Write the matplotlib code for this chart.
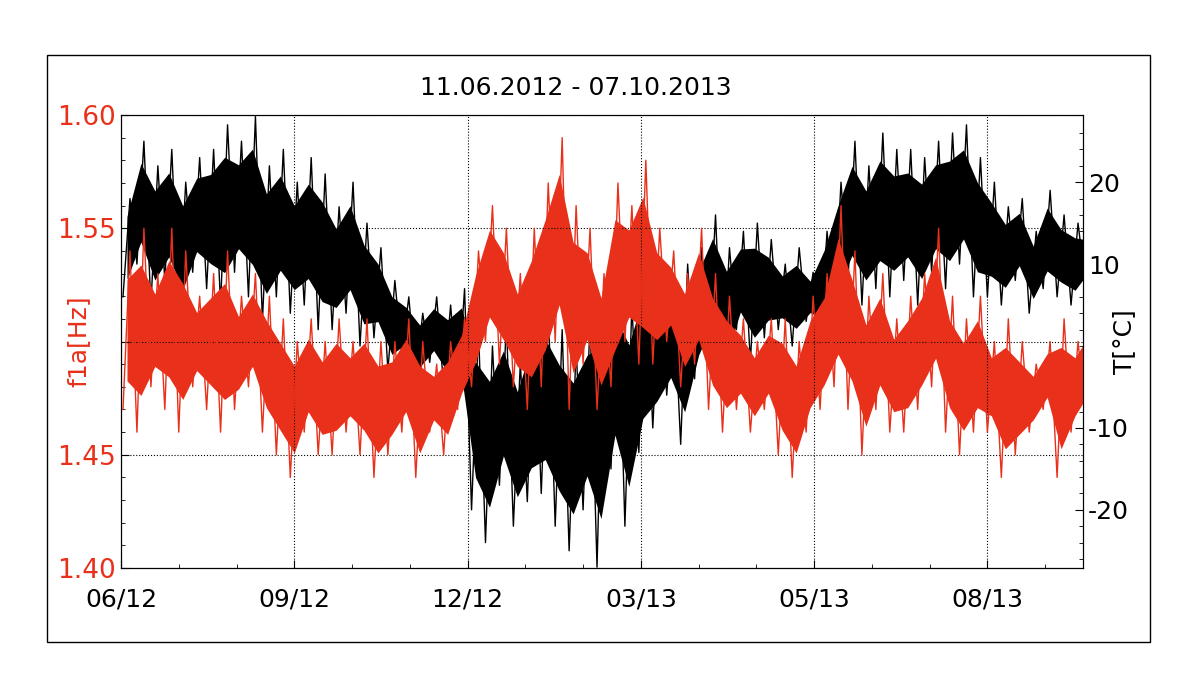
import matplotlib
matplotlib.use('Agg')
import matplotlib.pyplot as plt
import numpy as np
from matplotlib.patches import Rectangle

plt.rcParams['axes.unicode_minus'] = False

# weekly high/low estimates, week 0 = 11.06.2012
temp_high = [18, 25, 22, 24, 20, 23, 24, 27, 25, 28, 22, 24, 20, 23, 21,
             17, 20, 15, 12, 8, 6, 4, 6, 5, 7, 2, 0, 3, -2, 4,
             5, 2, 0, 3, 6, 8, 5, 10, 8, 6, 10, 12, 16, 12, 14, 15, 13,
             10, 12, 9, 14, 20, 25, 22, 26, 24, 24, 23, 25, 26, 27, 23,
             20, 17, 18, 14, 19, 16, 15, 14]
temp_low = [6, 10, 5, 8, 4, 9, 7, 5, 9, 6, 3, 6, 4, 5, 2,
            2, 4, 0, 1, -3, -1, -4, -2, -5, -6, -20, -24, -17, -22, -19,
            -18, -22, -25, -20, -27, -15, -22, -13, -10, -6, -12, -4, 0, -4, 2, -2, 1,
            2, 0, 3, 1, 4, 8, 5, 7, 6, 8, 5, 9, 7, 10, 6,
            6, 5, 8, 4, 7, 6, 5, 8]
f_high = [1.54, 1.55, 1.53, 1.55, 1.54, 1.52, 1.53, 1.54, 1.52, 1.53,
          1.52, 1.51, 1.50, 1.51, 1.50, 1.51, 1.50, 1.51, 1.50,
          1.50, 1.51, 1.50, 1.49, 1.50, 1.51, 1.54, 1.56, 1.55, 1.53, 1.55,
          1.57, 1.59, 1.56, 1.55, 1.53, 1.57, 1.56, 1.58, 1.55, 1.54, 1.53, 1.55,
          1.53, 1.52, 1.51, 1.50, 1.51, 1.51, 1.50, 1.52, 1.53,
          1.56, 1.54, 1.52, 1.53, 1.51, 1.52, 1.53, 1.55, 1.52, 1.51, 1.52,
          1.50, 1.51, 1.50, 1.49, 1.50, 1.51, 1.50, 1.51]
f_low = [1.47, 1.46, 1.48, 1.47, 1.46, 1.48, 1.47, 1.46, 1.47, 1.48,
         1.46, 1.45, 1.44, 1.46, 1.45, 1.45, 1.46, 1.45, 1.44,
         1.45, 1.46, 1.44, 1.46, 1.45, 1.47, 1.48, 1.50, 1.49, 1.48, 1.47,
         1.48, 1.50, 1.47, 1.49, 1.47, 1.48, 1.50, 1.49, 1.49, 1.50, 1.48, 1.49,
         1.47, 1.46, 1.47, 1.46, 1.47, 1.45, 1.44, 1.46, 1.47,
         1.48, 1.47, 1.45, 1.47, 1.46, 1.46, 1.47, 1.48, 1.46, 1.45, 1.46,
         1.46, 1.44, 1.45, 1.46, 1.47, 1.44, 1.46, 1.47]
x_labels = ['06/12', '09/12', '12/12', '03/13', '05/13', '08/13']
f_ticks = [1.40, 1.45, 1.50, 1.55, 1.60]
f_tick_labels = ['1.40', '1.45', '', '1.55', '1.60']  # 1.50 sits under the axis title
title = '11.06.2012 - 07.10.2013'
total_days = 483


def zigzag(highs, lows):
    xs, ys = [], []
    for w, (h, l) in enumerate(zip(highs, lows)):
        xs += [7 * w + 1, 7 * w + 4.5]
        ys += [l, h]
    return np.array(xs), np.array(ys)


def band(ax, highs, lows, color):
    hi = np.array(highs, dtype=float)
    lo = np.array(lows, dtype=float)
    xc = 7 * np.arange(len(hi)) + 3
    # dense core of the noisy signal between low and high
    ax.fill_between(xc, lo + 0.18 * (hi - lo), hi - 0.18 * (hi - lo), color=color, lw=0)
    xs, ys = zigzag(highs, lows)
    ax.plot(xs, ys, color=color, lw=1.0)


red = '#e8301a'
fig = plt.figure(figsize=(12, 7), dpi=100)
fig.patches.append(Rectangle((47 / 1200, 1 - 642 / 700), 1103 / 1200, 587 / 700,
                             transform=fig.transFigure, fill=False, lw=1, ec='black'))
ax = fig.add_axes([121 / 1200, 1 - 568 / 700, 962 / 1200, 453 / 700])
ax2 = ax.twinx()

band(ax2, temp_high, temp_low, 'black')
ax2.set_ylim(-27.1, 28.2)
band(ax, f_high, f_low, red)
ax.set_ylim(1.40, 1.60)
ax.set_zorder(ax2.get_zorder() + 1)
ax.patch.set_visible(False)

ax.set_xlim(0, total_days)
ax.set_xticks([87 * i for i in range(len(x_labels))])
ax.set_xticklabels(x_labels)
ax.set_xticks(np.arange(0, total_days, 29), minor=True)
ax.set_yticks(f_ticks)
ax.set_yticklabels(f_tick_labels)
ax.set_yticks(np.arange(1.40, 1.601, 0.01), minor=True)
ax.tick_params(axis='y', colors=red, labelsize=19, direction='in', length=6)
ax.tick_params(axis='y', which='minor', direction='in', length=3, colors='black')
ax.tick_params(axis='y', which='major', color='black')
ax.tick_params(axis='x', labelsize=18, direction='in', length=6, pad=14)
ax.tick_params(axis='x', which='minor', direction='in', length=3)
ax.set_ylabel('f1a[Hz]', color=red, fontsize=18)
ax.yaxis.set_label_coords(-0.032, 0.5)
ax.grid(True, which='major', linestyle=':', color='black', lw=0.8)

ax2.set_yticks([-20, -10, 10, 20])
ax2.set_yticks(np.arange(-26, 28, 2), minor=True)
ax2.tick_params(axis='y', labelsize=18, direction='in', length=6)
ax2.tick_params(axis='y', which='minor', direction='in', length=3)
ax2.set_ylabel('T[°C]', fontsize=18)
ax2.yaxis.set_label_coords(1.03, 0.5)

fig.text(576 / 1200, 1 - 88 / 700, title, ha='center', va='center', fontsize=18)
fig.savefig('out.png', dpi=100)
